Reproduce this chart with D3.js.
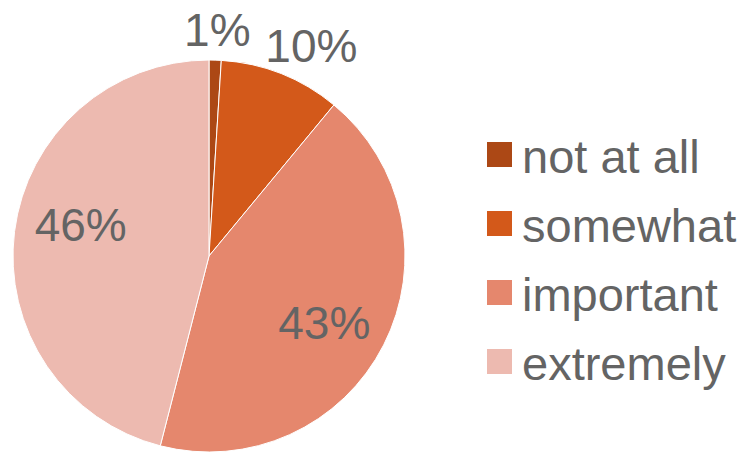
<!DOCTYPE html>
<html><head><meta charset="utf-8">
<script src="https://cdn.jsdelivr.net/npm/d3@7"></script>
<style>
html,body{margin:0;padding:0;background:#fff;}
text{font-family:"Liberation Sans",Arial,sans-serif;fill:#646464;}
</style></head>
<body>
<svg id="c" width="747" height="454"></svg>
<script>
const categories = ["not at all", "somewhat", "important", "extremely"];
const values = [1, 10, 43, 46];
const labels = ["1%", "10%", "43%", "46%"];
const colors = ["#AC4815", "#D3591A", "#E5876D", "#EDBAB0"];

const W = 747, H = 454;
const cx = 209, cy = 256, R = 196;
const svg = d3.select("#c");
const g = svg.append("g").attr("transform", `translate(${cx},${cy})`);

const pie = d3.pie().sort(null).value(d => d.v);
const data = pie(categories.map((c, i) => ({c, v: values[i], l: labels[i], col: colors[i]})));
const arc = d3.arc().innerRadius(0).outerRadius(R);

g.selectAll("path").data(data).enter().append("path")
  .attr("d", arc).attr("fill", d => d.data.col)
  .attr("stroke", "#fff").attr("stroke-width", 1);

const fs = 46;
data.forEach(d => {
  const a = (d.startAngle + d.endAngle) / 2;
  const s = Math.sin(a), c = -Math.cos(a);
  const t = g.append("text").text(d.data.l).attr("font-size", fs)
    .attr("text-anchor", "middle").attr("dominant-baseline", "central");
  const bb = t.node().getBBox();
  const inside = (d.endAngle - d.startAngle) > 1.2;
  let x, y;
  if (inside) {
    x = s * R * 0.66;
    y = c * R * 0.86 - 12;
  } else {
    const r = R + 16;
    const capH = fs * 0.72;
    x = s * r + s * bb.width / 2 + s * 20;
    y = c * r + c * capH / 2;
  }
  t.attr("x", x).attr("y", y + 2);
});

const leg = svg.append("g");
const legY = d3.scaleBand().domain(categories).range([120, 396]);
categories.forEach((c, i) => {
  const yc = legY(c) + legY.bandwidth() / 2;
  leg.append("rect").attr("x", 487).attr("y", yc - 12.5).attr("width", 25).attr("height", 25)
    .attr("fill", colors[i]);
  leg.append("text").attr("x", 522).attr("y", yc + 18).attr("font-size", 47).text(c);
});
</script>
</body></html>
